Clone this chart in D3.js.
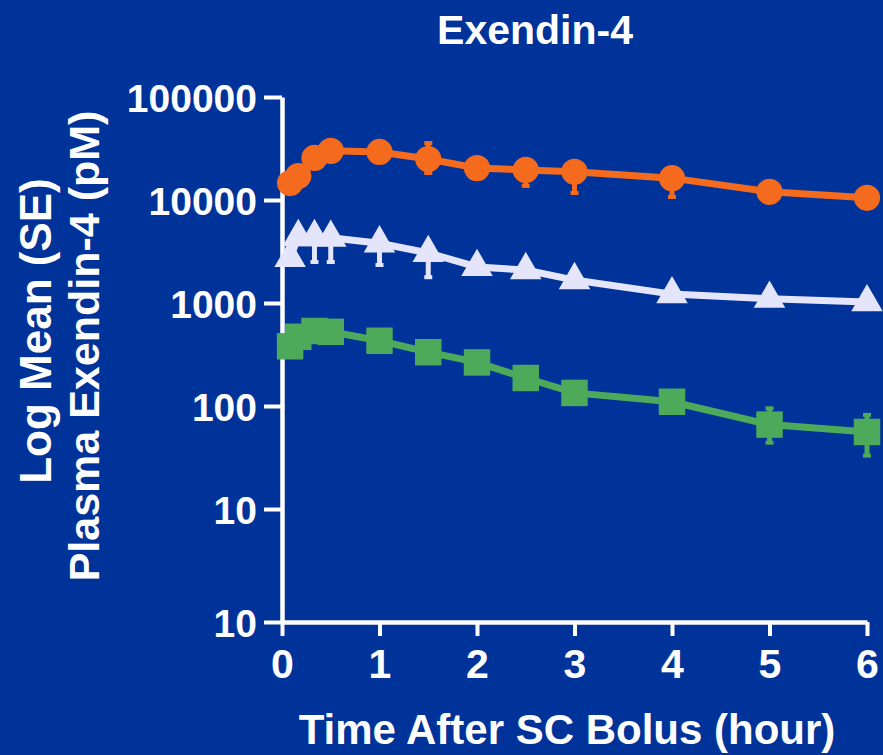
<!doctype html>
<html lang="en">
<head>
	<meta charset="utf-8">
	<title>Exendin-4</title>
	<script src="https://d3js.org/d3.v7.min.js"></script>
	<style>
		html, body { margin: 0; padding: 0; background: #003399; }
		svg text { font-family: "Liberation Sans", Arial, sans-serif; font-weight: bold; fill: #fff; }
	</style>
</head>
<body>
<div id="chart"></div>
<script>
	// time points (hours)
	var times = [0.083, 0.167, 0.333, 0.5, 1, 1.5, 2, 2.5, 3, 4, 5, 6];

	// orange circles
	var circleMean = [14600, 17100, 25600, 30000, 29300, 25000, 20400, 19600, 18800, 16300, 12000, 10500];
	var circleLo   = [13800, 16000, 24000, 28000, 27500, 18300, 19000, 13700, 11700, 10700, 11200, 9800];
	var circleHi   = [15500, 18300, 27300, 32000, 31200, 35700, 21900, 21000, 20000, 17500, 12900, 11200];

	// white triangles
	var triMean = [2740, 4370, 4370, 4300, 3800, 3060, 2240, 2090, 1670, 1220, 1100, 1020];
	var triLo   = [2600, 3900, 2500, 2500, 2340, 1780, 2100, 1950, 1580, 1150, 1040, 960];
	var triHi   = [2900, 4600, 4600, 4500, 4000, 3200, 2400, 2250, 1770, 1300, 1160, 1080];

	// green squares
	var sqMean = [380, 470, 535, 525, 430, 333, 265, 187, 134, 110, 66, 56];
	var sqLo   = [360, 440, 500, 490, 405, 315, 250, 176, 126, 104, 44, 33];
	var sqHi   = [400, 500, 570, 560, 455, 352, 280, 198, 142, 116, 95, 82];

	var xTicks = [0, 1, 2, 3, 4, 5, 6];
	var yTickValues = [100000, 10000, 1000, 100, 10, 0.8];
	var yTickLabels = ["100000", "10000", "1000", "100", "10", "10"];

	var W = 883, H = 755;
	var svg = d3.select("#chart").append("svg")
		.attr("width", W).attr("height", H);

	svg.append("rect").attr("width", W).attr("height", H).attr("fill", "#003399");

	var x = d3.scaleLinear().domain([0, 6]).range([282, 867]);
	var y = d3.scaleLog().domain([0.8, 100000]).range([622, 97]);

	// axes
	var yAxis = svg.append("g")
		.attr("transform", "translate(282,0)")
		.call(d3.axisLeft(y).tickValues(yTickValues)
			.tickFormat(function (d, i) { return yTickLabels[i]; })
			.tickSize(18).tickSizeOuter(0).tickPadding(7));

	var xAxis = svg.append("g")
		.attr("transform", "translate(0,622)")
		.call(d3.axisBottom(x).tickValues(xTicks)
			.tickFormat(d3.format("d"))
			.tickSize(14).tickSizeOuter(0).tickPadding(13));

	[xAxis, yAxis].forEach(function (g) {
		g.select(".domain").attr("stroke", "#fff").attr("stroke-width", 4.5);
		g.selectAll(".tick line").attr("stroke", "#fff").attr("stroke-width", 4);
		g.selectAll(".tick text").attr("fill", "#fff");
	});
	yAxis.selectAll(".tick text").attr("dy", "0.36em").style("font-size", "39px");
	xAxis.selectAll(".tick text").attr("dy", "0.71em").style("font-size", "41px");

	// series
	var series = [
		{ mean: circleMean, lo: circleLo, hi: circleHi, color: "#f46b1e", shape: d3.symbolCircle, size: 540 },
		{ mean: triMean, lo: triLo, hi: triHi, color: "#e4e4fa", shape: d3.symbolTriangle, size: 430 },
		{ mean: sqMean, lo: sqLo, hi: sqHi, color: "#4caa5a", shape: d3.symbolSquare, size: 700 }
	];

	var line = d3.line()
		.x(function (d) { return x(d.t); })
		.y(function (d) { return y(d.v); });

	series.forEach(function (s) {
		var pts = times.map(function (t, i) {
			return { t: t, v: s.mean[i], lo: s.lo[i], hi: s.hi[i] };
		});
		var g = svg.append("g");

		g.append("path")
			.datum(pts)
			.attr("fill", "none")
			.attr("stroke", s.color)
			.attr("stroke-width", 7)
			.attr("d", line);

		// error bars
		g.selectAll(".err").data(pts).enter().append("line")
			.attr("x1", function (d) { return x(d.t); })
			.attr("x2", function (d) { return x(d.t); })
			.attr("y1", function (d) { return y(d.lo); })
			.attr("y2", function (d) { return y(d.hi); })
			.attr("stroke", s.color).attr("stroke-width", 5);
		g.selectAll(".cap").data(pts.concat(pts)).enter().append("line")
			.attr("x1", function (d) { return x(d.t) - 4; })
			.attr("x2", function (d) { return x(d.t) + 4; })
			.attr("y1", function (d, i) { return y(i < pts.length ? d.lo : d.hi); })
			.attr("y2", function (d, i) { return y(i < pts.length ? d.lo : d.hi); })
			.attr("stroke", s.color).attr("stroke-width", 4);

		g.selectAll(".mark").data(pts).enter().append("path")
			.attr("d", d3.symbol().type(s.shape).size(s.size))
			.attr("transform", function (d) { return "translate(" + x(d.t) + "," + y(d.v) + ")"; })
			.attr("fill", s.color);
	});

	// titles
	svg.append("text")
		.attr("x", 535).attr("y", 44)
		.attr("text-anchor", "middle")
		.style("font-size", "41px")
		.text("Exendin-4");

	svg.append("text")
		.attr("x", 567).attr("y", 744)
		.attr("text-anchor", "middle")
		.style("font-size", "42px")
		.text("Time After SC Bolus (hour)");

	svg.append("text")
		.attr("transform", "translate(51,331) rotate(-90)")
		.attr("text-anchor", "middle")
		.style("font-size", "44px")
		.text("Log Mean (SE)");

	svg.append("text")
		.attr("transform", "translate(99,346) rotate(-90)")
		.attr("text-anchor", "middle")
		.style("font-size", "43px")
		.text("Plasma Exendin-4 (pM)");
</script>
</body>
</html>
